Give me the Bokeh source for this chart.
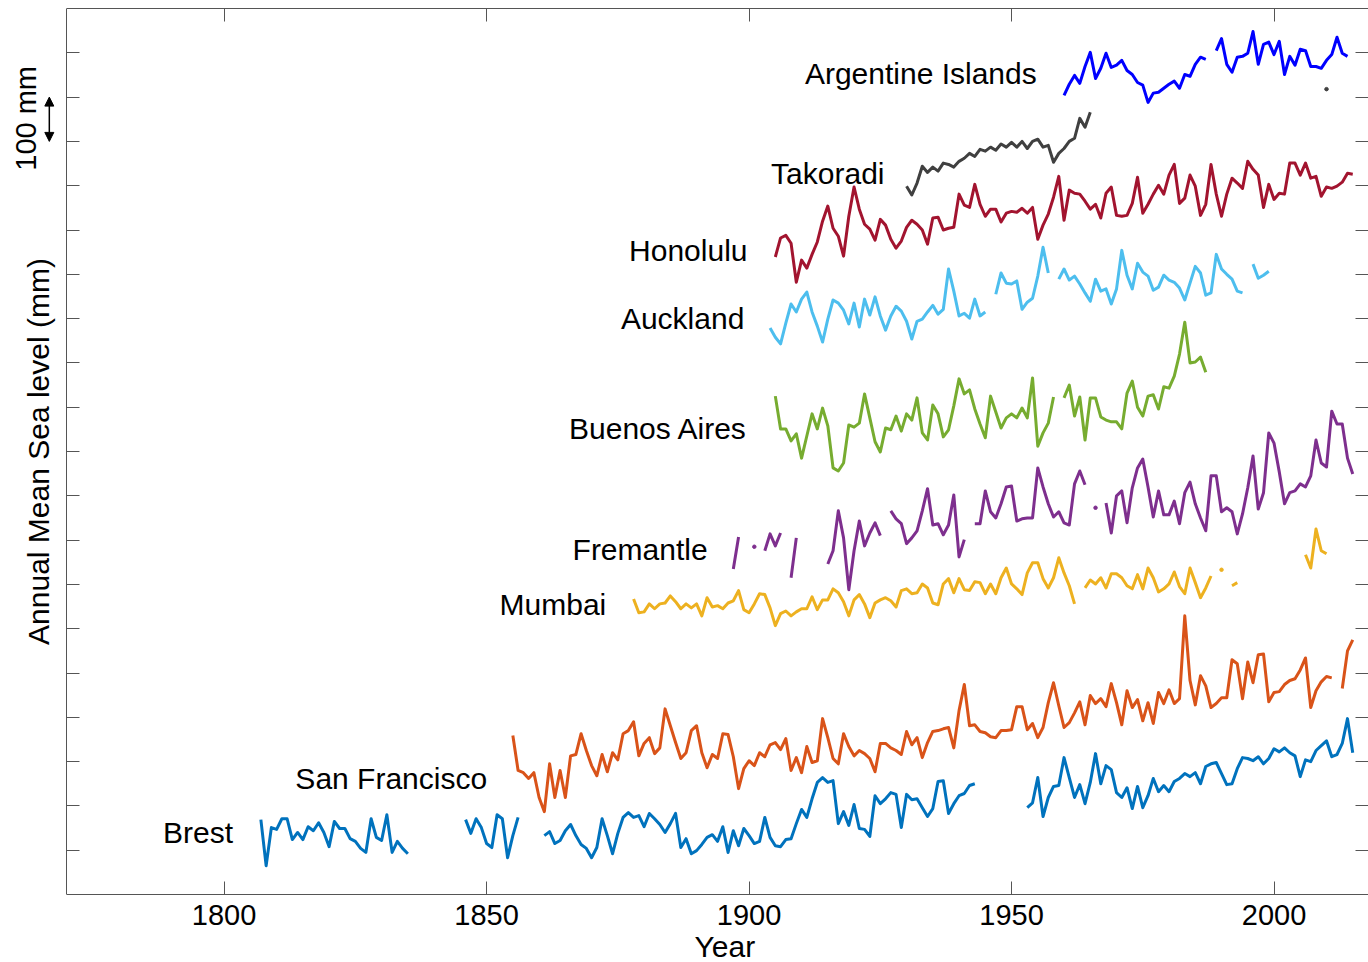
import numpy as np
from math import pi
from bokeh.plotting import figure
from bokeh.models import (LinearAxis, FixedTicker, Arrow, NormalHead, Title,
                          Range1d, ColumnDataSource)
from bokeh.core.properties import value
from bokeh.embed import file_html
from bokeh.resources import INLINE

FONT = "Liberation Sans"

# ---------------- data (annual mean sea level, mm, stacked with offsets) -------------
brest_start = 1807
brest_1807_1835 = [169, 65, 151, 147, 171, 171, 124, 140, 124, 153, 144, 162, 140, 108, 165,
                   149, 149, 126, 120, 104, 95, 171, 129, 122, 180, 95, 120, 104, 92]
brest_1846_1856 = [169, 138, 171, 151, 115, 106, 180, 171, 83, 133, 174]
brest_1861_1943 = [133, 142, 115, 122, 144, 158, 133, 113, 104, 83,
                   106, 171, 133, 92, 138, 174, 185, 174, 178, 153,
                   183, 171, 158, 140, 160, 183, 106, 126, 92, 99,
                   113, 129, 135, 120, 153, 95, 144, 110, 149, 133,
                   115, 120, 174, 129, 110, 108, 124, 126, 160, 192,
                   174, 216, 253, 264, 253, 257, 160, 187, 156, 203,
                   149, 147, 131, 223, 205, 216, 230, 226, 151, 226,
                   214, 216, 196, 176, 194, 255, 257, 183, 205, 223,
                   228, 246, 250]
brest_1953_2015 = [196, 207, 264, 176, 219, 244, 246, 309, 264, 219,
                   248, 205, 253, 318, 250, 291, 282, 230, 219, 241,
                   194, 244, 196, 223, 262, 232, 246, 232, 255, 262,
                   273, 266, 275, 250, 289, 295, 298, 273, 248, 250,
                   284, 309, 307, 302, 311, 295, 307, 329, 322, 331,
                   320, 313, 266, 304, 300, 325, 336, 347, 311, 316,
                   341, 397, 320]
brest_mm = (brest_1807_1835 + [None] * 10 + brest_1846_1856 + [None] * 4
            + brest_1861_1943 + [None] * 9 + brest_1953_2015)

sanfran_start = 1855
sanfran_1855_2011 = [359, 280, 275, 262, 275, 219, 187, 295, 219, 280,
                     219, 313, 316, 363, 325, 291, 268, 316, 277, 320,
                     304, 363, 370, 390, 313, 341, 354, 318, 331, 419,
                     381, 343, 307, 320, 370, 381, 320, 286, 316, 307,
                     363, 361, 311, 239, 284, 302, 291, 320, 311, 338,
                     343, 327, 352, 280, 309, 275, 334, 298, 302, 397,
                     354, 307, 295, 363, 334, 313, 325, 318, 307, 277,
                     341, 341, 331, 325, 316, 368, 338, 354, 309, 343,
                     368, 370, 374, 377, 331, 415, 474, 381, 383, 368,
                     365, 356, 354, 370, 370, 372, 424, 424, 372, 386,
                     354, 377, 433, 478, 426, 377, 388, 410, 435, 383,
                     449, 431, 442, 424, 476, 433, 383, 460, 422, 440,
                     392, 433, 386, 456, 431, 462, 431, 442, 629, 483,
                     428, 494, 471, 422, 431, 444, 444, 530, 521, 442,
                     525, 478, 541, 543, 435, 456, 458, 474, 483, 487,
                     507, 534, 422, 460, 480, 492, 489]
sanfran_2013_2015 = [465, 550, 575]
sanfran_mm = sanfran_1855_2011 + [None] + sanfran_2013_2015

mumbai_start = 1878
mumbai_1878_1962 = [667, 636, 638, 656, 645, 656, 658, 674, 661, 645,
                    656, 647, 656, 629, 670, 649, 652, 645, 658, 663,
                    686, 643, 636, 656, 679, 677, 647, 607, 634, 640,
                    629, 638, 645, 645, 672, 643, 665, 665, 690, 681,
                    661, 629, 665, 677, 656, 625, 658, 665, 670, 663,
                    649, 686,
                    690, 679, 681, 701, 692, 658, 654, 701, 713, 681,
                    713, 688, 686, 706, 704, 679, 701, 679, 715, 737,
                    701, 690, 677, 726, 749, 749, 713, 692, 715, 760,
                    726, 697, 656]
mumbai_1964_1988 = [692, 710, 701, 715, 692, 724, 724, 715, 697, 690,
                    722, 690, 737, 715, 683, 690, 701, 728, 695, 679,
                    737, 704, 670, 692, 719]
mumbai_1990 = [733]
mumbai_1992_1993 = [697, 704]
mumbai_2006_2010 = [767, 737, 825, 776, 769]
mumbai_mm = (mumbai_1878_1962 + [None] + mumbai_1964_1988 + [None] + mumbai_1990
             + [None] + mumbai_1992_1993 + [None] * 12 + mumbai_2006_2010)

fremantle_start = 1897
fremantle_mm = ([735, 807, None, None, 785, None, 776, 814, 787, 816, None, 715, 805]
                + [None] * 5
                + [746, 776, 866, 805, 688, 776, 843, 787, 816, 839, 810]
                + [None]
                + [866, 848, 837, 792, 805, 821, 866, 916, 834, 837, 812, 834, 902, 762, 801]
                + [None]
                + [837, 837, 911, 864, 850, 882, 920, 922, 843, 848,
                   850, 850, 963, 920, 882, 852, 864, 839, 834, 927, 956, 925]
                + [None, 873, None]
                + [884, 816, 900, 911, 839, 918, 963, 983, 920, 852,
                   911, 857, 857, 888, 837, 907, 931, 882, 850, 821,
                   945, 945, 864, 873, 864, 814, 859, 918, 990, 870,
                   907, 1042, 1019, 954, 882, 907, 911, 927, 920, 945,
                   1026, 974, 965, 1091, 1062, 1062, 985, 949])

buenos_start = 1905
buenos_1905_1958 = [1125, 1051, 1051, 1024, 1040, 985, 1035, 1085, 1051, 1098,
                    1058, 963, 956, 974, 1060, 1055, 1064, 1130, 1076, 1022,
                    999, 1053, 1049, 1080, 1046, 1085, 1071, 1121, 1042, 1026,
                    1105, 1085, 1033, 1049, 1103, 1164, 1130, 1139, 1096, 1062,
                    1031, 1125, 1089, 1053, 1076, 1085, 1076, 1098, 1076, 1166,
                    1012, 1042, 1064, 1123]
buenos_1960_1987 = [1121, 1150, 1080, 1123, 1026, 1121, 1121, 1078, 1071, 1067,
                    1067, 1051, 1132, 1159, 1100, 1080, 1125, 1128, 1096, 1146,
                    1143, 1170, 1220, 1292, 1200, 1202, 1213, 1179]
buenos_mm = buenos_1905_1958 + [None] + buenos_1960_1987

auckland_start = 1904
auckland_1904_1945 = [1279, 1258, 1243, 1290, 1333, 1315, 1344, 1360, 1315, 1283,
                      1247, 1299, 1342, 1335, 1319, 1288, 1335, 1281, 1344, 1308,
                      1349, 1306, 1274, 1306, 1328, 1317, 1294, 1254, 1294, 1299,
                      1315, 1330, 1310, 1321, 1412, 1362, 1306, 1312, 1301, 1344,
                      1306, 1315]
auckland_1947_1957 = [1355, 1403, 1380, 1378, 1385, 1321, 1337, 1346, 1396, 1461, 1403]
auckland_1959_1994 = [1389, 1412, 1387, 1396, 1378, 1358, 1339, 1389, 1362, 1367,
                      1333, 1367, 1454, 1398, 1367, 1425, 1405, 1396, 1364, 1371,
                      1398, 1387, 1382, 1369, 1342, 1380, 1418, 1403, 1353, 1358,
                      1445, 1412, 1400, 1389, 1362, 1358]
auckland_1996_1999 = [1423, 1391, 1398, 1407]
auckland_mm = (auckland_1904_1945 + [None] + auckland_1947_1957 + [None]
               + auckland_1959_1994 + [None] + auckland_1996_1999)

honolulu_start = 1905
honolulu_mm = [1439, 1482, 1488, 1470, 1382, 1432, 1414, 1445, 1473, 1520,
               1554, 1504, 1486, 1441, 1531, 1597, 1547, 1513, 1502, 1477,
               1524, 1511, 1479, 1459, 1475, 1506, 1522, 1513, 1500, 1468,
               1527, 1529, 1500, 1504, 1506, 1581, 1556, 1551, 1603, 1558,
               1531, 1547, 1547, 1518, 1538, 1542, 1540, 1549, 1538, 1551,
               1479, 1511, 1536, 1574, 1621,
               1522, 1590, 1583, 1581, 1565, 1547, 1558, 1527, 1583, 1597,
               1533, 1531, 1533, 1560, 1619, 1538, 1558, 1581, 1601, 1581,
               1624, 1648, 1560, 1572, 1624, 1599, 1533, 1558, 1648, 1581,
               1531, 1581, 1617, 1606, 1594, 1655, 1637, 1624, 1551, 1603,
               1569, 1583, 1581, 1651, 1651, 1624, 1651, 1617, 1621, 1576,
               1597, 1594, 1599, 1608, 1628, 1626]

takoradi_start = 1930
takoradi_1930_1965 = [1599, 1579, 1606, 1644, 1630, 1642, 1633, 1651, 1648, 1642,
                      1655, 1662, 1673, 1666, 1682, 1678, 1687, 1680, 1694, 1687,
                      1698, 1687, 1700, 1684, 1700, 1705, 1687, 1691, 1653, 1673,
                      1684, 1700, 1707, 1752, 1732, 1766]
takoradi_2010 = [1818]
takoradi_mm = takoradi_1930_1965 + [None] * 44 + takoradi_2010

argentine_start = 1960
argentine_1960_1987 = [1804, 1829, 1849, 1831, 1869, 1901, 1842, 1865, 1899, 1867,
                       1872, 1883, 1860, 1851, 1833, 1827, 1788, 1809, 1811, 1820,
                       1829, 1836, 1820, 1851, 1847, 1874, 1890, 1885]
argentine_1989_2014 = [1905, 1932, 1874, 1856, 1890, 1892, 1899, 1948, 1874, 1919,
                       1924, 1896, 1926, 1851, 1892, 1872, 1908, 1905, 1869, 1869,
                       1865, 1883, 1896, 1935, 1899, 1892]
argentine_mm = argentine_1960_1987 + [None] + argentine_1989_2014

x_ticks = [1800, 1850, 1900, 1950, 2000]
y_ticks = list(range(100, 2000, 100))

label_names = ["Argentine Islands", "Takoradi", "Honolulu", "Auckland", "Buenos Aires",
               "Fremantle", "Mumbai", "San Francisco", "Brest"]
x_title = "Year"
y_title = "Annual Mean Sea level (mm)"
scale_text = "100 mm"
scale_mm = (1700, 1800)

# ---------------- styling / positions -------------------------------------------
stations = [
    (brest_start, brest_mm, "#0072BD"),
    (sanfran_start, sanfran_mm, "#D95319"),
    (mumbai_start, mumbai_mm, "#EDB120"),
    (fremantle_start, fremantle_mm, "#7E2F8E"),
    (buenos_start, buenos_mm, "#77AC30"),
    (auckland_start, auckland_mm, "#4DBEEE"),
    (honolulu_start, honolulu_mm, "#A2142F"),
    (takoradi_start, takoradi_mm, "#404040"),
    (argentine_start, argentine_mm, "#0000FF"),
]
label_x = [1954.8, 1925.8, 1899.7, 1899.1, 1899.7, 1892.1, 1872.8, 1850.1, 1801.7]
label_y = [1854, 1628, 1454, 1301, 1053, 778, 654, 262, 140]

AX = "#555555"
X0, X1 = 1770, 2018.0          # visible data box
XLEFT = 1757.4                 # room on the left for the rotated titles

p = figure(width=1368, height=962, x_range=Range1d(XLEFT, X1), y_range=Range1d(0, 2000),
           output_backend="svg", toolbar_location=None,
           min_border_left=0, min_border_right=0, min_border_top=8, min_border_bottom=0)
p.outline_line_color = None
p.grid.visible = False
p.background_fill_color = "white"
p.border_fill_color = "white"

xa = p.xaxis[0]
xa.ticker = FixedTicker(ticks=x_ticks)
xa.bounds = (X0, X1)
xa.major_tick_in = 13
xa.major_tick_out = 0
xa.minor_tick_in = 0
xa.minor_tick_out = 0
xa.axis_line_color = AX
xa.major_tick_line_color = AX
xa.major_label_text_font = FONT
xa.major_label_text_font_size = "29px"
xa.major_label_text_color = "black"
xa.major_label_standoff = 10

p.add_layout(Title(text=x_title, align="left", offset=694, standoff=0,
                   text_font=FONT, text_font_size="30px", text_font_style="normal",
                   text_color="black"), "below")

blank_y = {t: "" for t in y_ticks}
blank_x = {t: "" for t in x_ticks}

ya = p.yaxis[0]
ya.fixed_location = X0
ya.ticker = FixedTicker(ticks=y_ticks)
ya.major_tick_in = 13
ya.major_tick_out = 0
ya.minor_tick_in = 0
ya.minor_tick_out = 0
ya.axis_line_color = AX
ya.major_tick_line_color = AX
ya.major_label_overrides = blank_y
ya.major_label_text_font_size = "1px"
ya.major_label_standoff = 0

top = LinearAxis(ticker=FixedTicker(ticks=x_ticks), bounds=(X0, X1),
                 major_label_overrides=blank_x, major_label_text_font_size="1px",
                 major_label_standoff=0, major_tick_in=13, major_tick_out=0,
                 minor_tick_in=0, minor_tick_out=0, axis_line_color=AX,
                 major_tick_line_color=AX)
p.add_layout(top, "above")
right = LinearAxis(ticker=FixedTicker(ticks=y_ticks), major_label_overrides=blank_y,
                   major_label_text_font_size="1px",
                   major_label_standoff=0, major_tick_in=13, major_tick_out=0,
                   minor_tick_in=0, minor_tick_out=0, axis_line_color=None,
                   major_tick_line_color=AX)
p.add_layout(right, "right")

for start, vals, col in stations:
    y = np.array(vals, dtype=float)
    x = np.arange(start, start + len(y))
    p.line(x, y, line_color=col, line_width=3, line_join="round")
    fin = np.isfinite(y)
    prev_ok = np.r_[False, fin[:-1]]
    next_ok = np.r_[fin[1:], False]
    iso = fin & ~prev_ok & ~next_ok
    if iso.any():
        p.scatter(x[iso], y[iso], size=3.5, color=col)

src = ColumnDataSource(dict(x=label_x, y=label_y, t=label_names))
p.text(x="x", y="y", text="t", source=src, text_align="right", text_baseline="middle",
       text_font=value(FONT), text_font_size="30px", text_color="black")

# rotated y title and the 100 mm scale marker, left of the data box
p.text(x=[1764.7], y=[1000], text=[y_title], angle=pi / 2, text_align="center",
       text_baseline="middle", text_font=value(FONT), text_font_size="30px",
       text_color="black")
p.text(x=[1762.2], y=[sum(scale_mm) / 2 + 2], text=[scale_text], angle=pi / 2,
       text_align="center", text_baseline="middle", text_font=value(FONT),
       text_font_size="29px", text_color="black")
p.add_layout(Arrow(start=NormalHead(size=9, fill_color="black", line_color="black"),
                   end=NormalHead(size=9, fill_color="black", line_color="black"),
                   x_start=1766.7, y_start=scale_mm[0], x_end=1766.7, y_end=scale_mm[1],
                   line_color="black", line_width=1.5))

open("out.html", "w").write(file_html(p, INLINE))
